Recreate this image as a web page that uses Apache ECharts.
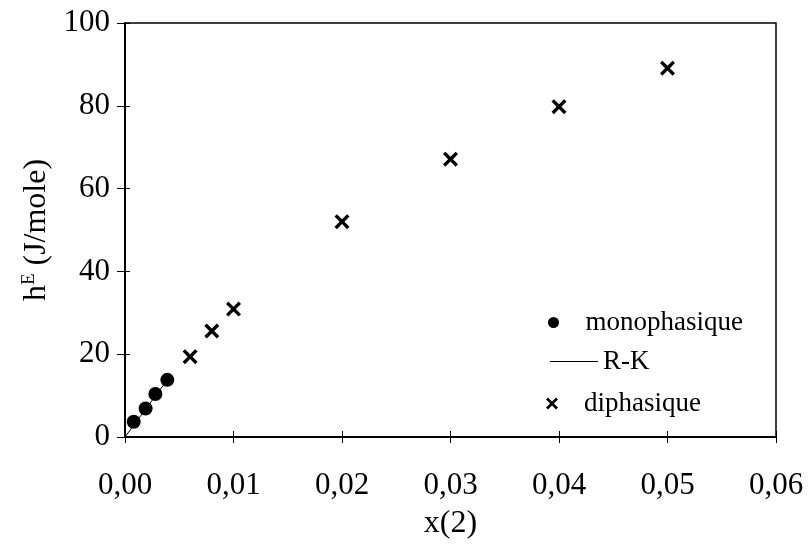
<!DOCTYPE html>
<html>
<head>
<meta charset="utf-8">
<script src="https://cdn.jsdelivr.net/npm/echarts@6/dist/echarts.min.js"></script>
<style>html,body{margin:0;padding:0;background:#fff;}#c{width:808px;height:554px;}</style>
</head>
<body>
<div id="c"></div>
<script>
// Data
const monoX = [0.0008, 0.0019, 0.0028, 0.0039];
const monoY = [3.7, 6.9, 10.4, 13.8];
const rkX = [0, 0.0039];
const rkY = [0, 13.8];
const diX = [0.006, 0.008, 0.010, 0.020, 0.030, 0.040, 0.050];
const diY = [19.4, 25.6, 30.9, 52.0, 67.1, 79.8, 89.1];
const xTicks = [0, 0.01, 0.02, 0.03, 0.04, 0.05, 0.06];
const yTicks = [0, 20, 40, 60, 80, 100];

const FONT = 'Liberation Serif';
const CROSS = 'path://M0,1.6 L1.6,0 L5,3.4 L8.4,0 L10,1.6 L6.6,5 L10,8.4 L8.4,10 L5,6.6 L1.6,10 L0,8.4 L3.4,5 Z';
const pairs = (xs, ys) => xs.map((x, i) => [x, ys[i]]);

const chart = echarts.init(document.getElementById('c'));
const commonX = {
  type: 'value', min: xTicks[0], max: xTicks[xTicks.length - 1], interval: 0.01,
  splitLine: { show: false }
};
const commonY = {
  type: 'value', min: yTicks[0], max: yTicks[yTicks.length - 1], interval: 20,
  splitLine: { show: false }
};
chart.setOption({
  animation: false,
  backgroundColor: '#fff',
  grid: { left: 125, right: 32, top: 23, bottom: 117, show: true, borderColor: '#000', borderWidth: 1.5, containLabel: false },
  xAxis: [
    Object.assign({}, commonX, {
      name: 'x(2)', nameLocation: 'middle', nameGap: 71,
      nameTextStyle: { fontFamily: FONT, fontSize: 32, color: '#000' },
      axisLine: { lineStyle: { color: '#000', width: 2 } },
      axisTick: { length: 6, lineStyle: { color: '#000', width: 1 } },
      axisLabel: { margin: 33, fontFamily: FONT, fontSize: 31, color: '#000',
        formatter: v => v.toFixed(2).replace('.', ',') }
    }),
    Object.assign({}, commonX, {
      position: 'bottom', axisLine: { show: false },
      axisTick: { inside: true, length: 6, lineStyle: { color: '#000', width: 1 } },
      axisLabel: { show: false }
    })
  ],
  yAxis: [
    Object.assign({}, commonY, {
      name: 'h{sup|E} (J/mole)', nameLocation: 'middle', nameGap: 63,
      nameTextStyle: { fontFamily: FONT, fontSize: 32, color: '#000',
        rich: { sup: { fontFamily: FONT, fontSize: 19, color: '#000', verticalAlign: 'top', padding: [0, 0, 16, 0] } } },
      axisLine: { lineStyle: { color: '#000', width: 2 } },
      axisTick: { length: 8, lineStyle: { color: '#000', width: 1 } },
      axisLabel: { margin: 15, fontFamily: FONT, fontSize: 31, color: '#000' }
    }),
    Object.assign({}, commonY, {
      position: 'left', axisLine: { show: false },
      axisTick: { inside: true, length: 5, lineStyle: { color: '#000', width: 1 } },
      axisLabel: { show: false }
    })
  ],
  legend: [
    { data: [{ name: 'monophasique', icon: 'circle' }], orient: 'vertical', left: 543, top: 304,
      itemWidth: 54, itemHeight: 11, textStyle: { fontFamily: FONT, fontSize: 27, color: '#000' } },
    { data: [{ name: 'R-K', icon: 'path://M0,0L48,0L48,1L0,1Z' }], orient: 'vertical', left: 545, top: 343,
      itemWidth: 48, itemHeight: 1, textStyle: { fontFamily: FONT, fontSize: 27, color: '#000' } },
    { data: [{ name: 'diphasique', icon: CROSS }], orient: 'vertical', left: 541, top: 385,
      itemWidth: 54, itemHeight: 12, textStyle: { fontFamily: FONT, fontSize: 27, color: '#000' } }
  ],
  series: [
    { name: 'R-K', type: 'line', data: pairs(rkX, rkY), showSymbol: false, symbol: 'none',
      lineStyle: { color: '#000', width: 1 }, itemStyle: { color: '#000' }, z: 1 },
    { name: 'monophasique', type: 'scatter', data: pairs(monoX, monoY), symbol: 'circle', symbolSize: 14,
      itemStyle: { color: '#000', opacity: 1 }, z: 3 },
    { name: 'diphasique', type: 'scatter', data: pairs(diX, diY), symbol: CROSS, symbolSize: 15,
      itemStyle: { color: '#000', opacity: 1 }, z: 3 }
  ]
});
</script>
</body>
</html>
